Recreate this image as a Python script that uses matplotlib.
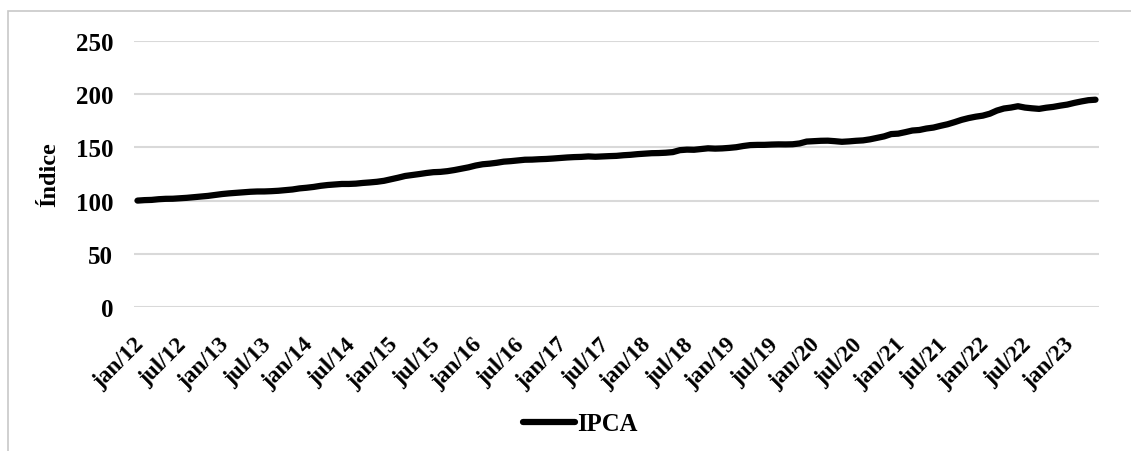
import matplotlib.pyplot as plt
import matplotlib.transforms as mtransforms
from matplotlib.patches import Rectangle

# IPCA index, monthly, jan/2012 = 100 (jan/2012 to mai/2023)
ipca_2012 = [100.00, 100.45, 100.66, 101.30, 101.67, 101.75, 102.19, 102.61, 103.19, 103.80, 104.42, 105.25]
ipca_2013 = [106.16, 106.80, 107.30, 107.89, 108.29, 108.57, 108.60, 108.86, 109.24, 109.86, 110.45, 111.47]
ipca_2014 = [112.08, 112.85, 113.89, 114.65, 115.18, 115.64, 115.65, 115.94, 116.60, 117.09, 117.69, 118.61]
ipca_2015 = [120.08, 121.54, 123.15, 124.02, 124.94, 125.93, 126.71, 126.99, 127.68, 128.73, 130.03, 131.28]
ipca_2016 = [132.95, 134.15, 134.73, 135.55, 136.61, 137.09, 137.80, 138.41, 138.52, 138.88, 139.13, 139.55]
ipca_2017 = [140.08, 140.54, 140.89, 141.09, 141.53, 141.20, 141.54, 141.81, 142.04, 142.64, 143.04, 143.67]
ipca_2018 = [144.09, 144.55, 144.68, 145.00, 145.58, 147.41, 147.90, 147.77, 148.48, 149.15, 148.84, 149.06]
ipca_2019 = [149.54, 150.18, 151.31, 152.17, 152.37, 152.39, 152.68, 152.85, 152.79, 152.94, 153.72, 155.49]
ipca_2020 = [155.82, 156.21, 156.32, 155.84, 155.25, 155.65, 156.21, 156.59, 157.59, 158.95, 160.36, 162.52]
ipca_2021 = [162.93, 164.33, 165.86, 166.37, 167.75, 168.64, 170.26, 171.74, 173.73, 175.90, 177.57, 178.87]
ipca_2022 = [179.84, 181.66, 184.60, 186.56, 187.44, 188.70, 187.42, 186.74, 186.20, 187.30, 188.07, 189.24]
ipca_2023 = [190.24, 191.84, 193.20, 194.38, 194.83]

ipca = (ipca_2012 + ipca_2013 + ipca_2014 + ipca_2015 + ipca_2016 + ipca_2017
        + ipca_2018 + ipca_2019 + ipca_2020 + ipca_2021 + ipca_2022 + ipca_2023)

tick_labels = ["jan/12", "jul/12", "jan/13", "jul/13", "jan/14", "jul/14", "jan/15", "jul/15",
               "jan/16", "jul/16", "jan/17", "jul/17", "jan/18", "jul/18", "jan/19", "jul/19",
               "jan/20", "jul/20", "jan/21", "jul/21", "jan/22", "jul/22", "jan/23"]
y_ticks = [0, 50, 100, 150, 200, 250]

plt.rcParams["font.family"] = ["Liberation Serif", "DejaVu Serif"]
plt.rcParams["font.weight"] = "bold"

fig = plt.figure(figsize=(11.31, 4.52), dpi=100)
ax = fig.add_axes([134 / 1131, 1 - 308 / 452, 965 / 1131, 266 / 452])

# light frame around the chart area
fig.patches.append(Rectangle((8 / 1131, -0.1), 1.2, 1.1 - 12 / 452, transform=fig.transFigure,
                             fill=False, edgecolor="#c8c8c8", linewidth=1.2))

x = list(range(len(ipca)))
ax.plot(x, ipca, color="black", linewidth=4.5, solid_capstyle="round", label="IPCA", zorder=3)

ax.set_xlim(-0.5, len(ipca) - 0.5)
ax.set_ylim(0, 250)
ax.set_yticks(y_ticks)
ax.set_xticks(range(0, len(ipca), 6))
ax.set_xticklabels(tick_labels, rotation=45, ha="right", rotation_mode="anchor")
ax.tick_params(axis="both", length=0)
ax.tick_params(axis="y", pad=15, labelsize=18)
ax.tick_params(axis="x", pad=19, labelsize=16.8)
shift = mtransforms.ScaledTranslation(-4 / 100, 0, fig.dpi_scale_trans)
for lbl in ax.get_xticklabels():
    lbl.set_fontweight("bold")
    lbl.set_transform(lbl.get_transform() + shift)
for lbl in ax.get_yticklabels():
    lbl.set_fontweight("bold")

ax.grid(axis="y", color="#d9d9d9", linewidth=1.5)
ax.set_axisbelow(True)
for s in ax.spines.values():
    s.set_visible(False)

ax.set_ylabel("Índice", fontsize=17.5, fontweight="bold")
ax.yaxis.set_label_coords(-0.077, 0.5)

fig.legend(loc="center", bbox_to_anchor=(0.513, 0.06), frameon=False, handlelength=2.1,
           handletextpad=0.1, prop={"size": 17.7, "weight": "bold"})

fig.savefig("out.png", dpi=100)
